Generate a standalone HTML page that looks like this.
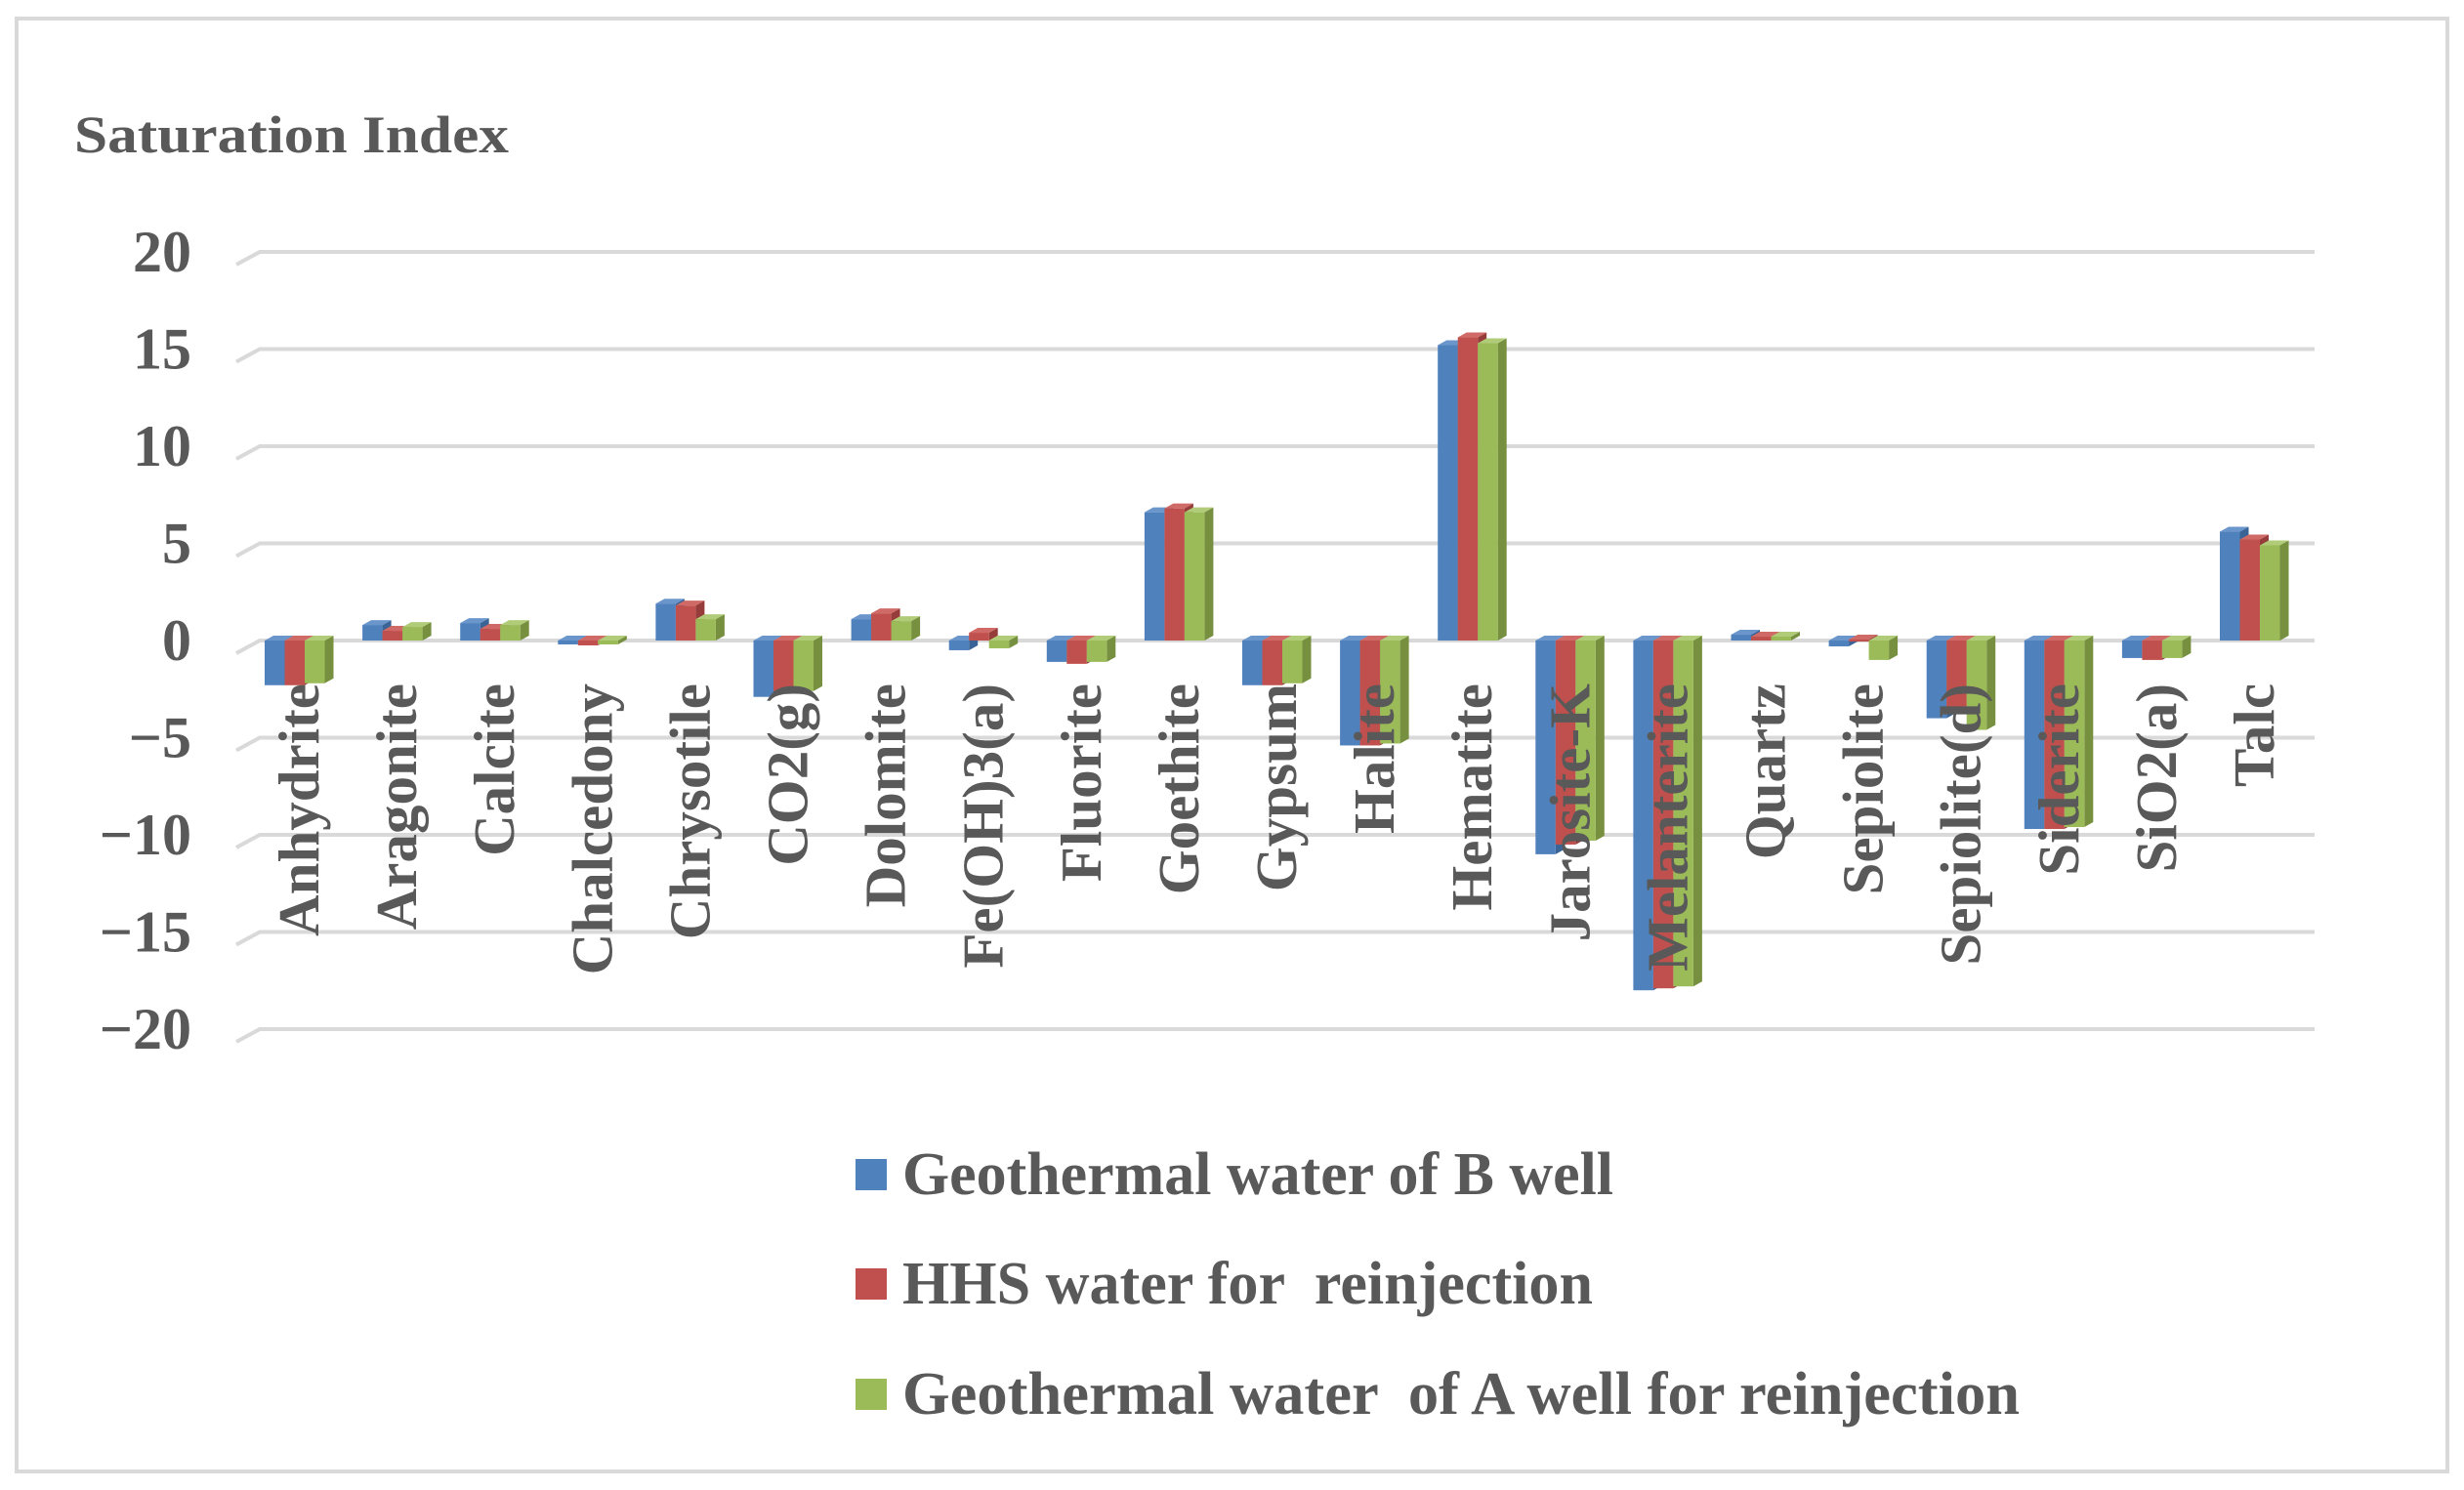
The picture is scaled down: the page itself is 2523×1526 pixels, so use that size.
<!DOCTYPE html>
<html><head><meta charset="utf-8"><style>
html,body{margin:0;padding:0;background:#fff}
svg text{font-family:"Liberation Serif",serif;font-weight:bold;fill:#595959}
</style></head><body>
<svg id="chart" width="2523" height="1521" viewBox="0 0 2523 1521" xmlns="http://www.w3.org/2000/svg">
<rect x="17" y="19" width="2489" height="1488" fill="#fff" stroke="#d9d9d9" stroke-width="4"/>
<text x="76" y="156" font-size="54" textLength="445" lengthAdjust="spacingAndGlyphs">Saturation Index</text>
<g id="grid"></g><g id="bars"></g><g id="labels"></g>
<g>
<rect x="876" y="1187" width="32" height="32" fill="#4F81BD"/>
<text x="924" y="1223" font-size="62" textLength="728" lengthAdjust="spacingAndGlyphs">Geothermal water of B well</text>
<rect x="876" y="1299" width="32" height="32" fill="#C0504D"/>
<text x="924" y="1335" font-size="62" textLength="707" lengthAdjust="spacingAndGlyphs" xml:space="preserve">HHS water for  reinjection</text>
<rect x="876" y="1412" width="32" height="32" fill="#9BBB59"/>
<text x="924" y="1448" font-size="62" textLength="1144" lengthAdjust="spacingAndGlyphs" xml:space="preserve">Geothermal water  of A well for reinjection</text>
</g>
</svg>
<script>
const categories=["Anhydrite","Aragonite","Calcite","Chalcedony","Chrysotile","CO2(g)","Dolomite","Fe(OH)3(a)","Fluorite","Goethite","Gypsum","Halite","Hematite","Jarosite-K","Melanterite","Quartz","Sepiolite","Sepiolite(d)","Siderite","SiO2(a)","Talc"];
const seriesB=[-2.3,0.8,0.9,-0.2,1.9,-2.9,1.1,-0.5,-1.1,6.6,-2.3,-5.4,15.2,-11.0,-18.0,0.3,-0.3,-4.0,-9.7,-0.9,5.6];
const seriesHHS=[-2.3,0.5,0.6,-0.25,1.8,-2.6,1.4,0.4,-1.2,6.8,-2.3,-5.4,15.6,-10.5,-17.9,0.2,0.05,-3.4,-9.7,-1.0,5.2];
const seriesA=[-2.2,0.7,0.8,-0.2,1.1,-2.6,1.0,-0.4,-1.1,6.6,-2.2,-5.3,15.3,-10.3,-17.8,0.2,-1.0,-4.6,-9.6,-0.9,4.9];
const yTicks=[20,15,10,5,0,-5,-10,-15,-20];
const NS="http://www.w3.org/2000/svg";
const yScale=v=>656-v*19.9;
const xScale=i=>306+i*100.1;
function mk(tag,attrs,parent){const e=document.createElementNS(NS,tag);for(const k in attrs)e.setAttribute(k,attrs[k]);parent.appendChild(e);return e;}
const grid=document.getElementById('grid');
yTicks.forEach(t=>{const y=yScale(t);
 const l=mk('path',{d:`M242 ${y+13} L266 ${y} L2370 ${y}`,stroke:'#d9d9d9','stroke-width':4,fill:'none'},grid);
 
 
 const tx=mk('text',{x:196,y:y+20,'font-size':60,'text-anchor':'end'},grid);
 tx.textContent=t<0?'\u2212'+Math.abs(t):String(t);
 
 
});
const bars=document.getElementById('bars');
const series=[[seriesB,'#4F81BD','#3A6496','#6A96CC','b-well'],[seriesHHS,'#C0504D','#963C3A','#D06A67','hhs'],[seriesA,'#9BBB59','#76903F','#B0CC78','a-well']];
const bw=20.5,dx=9,dy=5;
categories.forEach((c,i)=>{
 const cx=xScale(i);
 series.forEach((s,j)=>{
  const v=s[0][i];const x=cx-35+j*bw;const y0=yScale(0),y1=yScale(v);
  const top=Math.min(y0,y1),h=Math.max(Math.abs(y1-y0),2);
  const side=mk('polygon',{points:`${x+bw},${top} ${x+bw+dx},${top-dy} ${x+bw+dx},${top+h-dy} ${x+bw},${top+h}`,fill:s[2]},bars);
  
  
  const tp=mk('polygon',{points:`${x},${top} ${x+dx},${top-dy} ${x+bw+dx},${top-dy} ${x+bw},${top}`,fill:s[3]},bars);
  
  
  const r=mk('rect',{x:x,y:top,width:bw,height:h,fill:s[1]},bars);
  
  
 });
});
const labels=document.getElementById('labels');
categories.forEach((c,i)=>{
 const cx=xScale(i)+20;const y=700;
 const t=mk('text',{x:cx,y:y,'font-size':59,'text-anchor':'end',transform:`rotate(-90 ${cx} ${y})`},labels);
 t.textContent=c;
 
 
});
</script>
</body></html>
